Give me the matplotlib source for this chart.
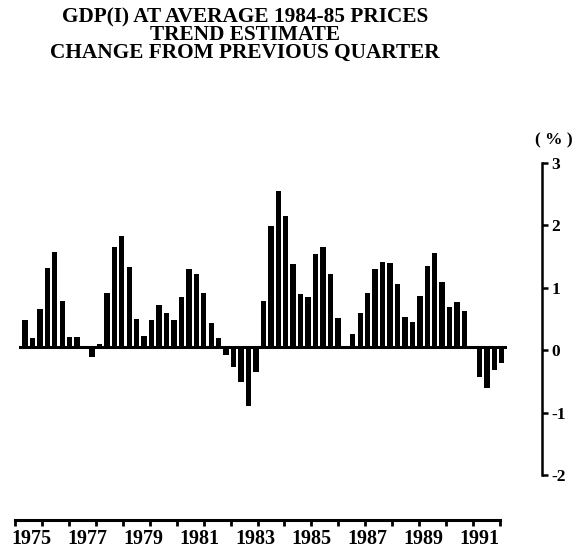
import numpy as np
import matplotlib
matplotlib.use("Agg")
import matplotlib.pyplot as plt

# quarterly % change, trend estimate
pct_change = [0.43, 0.15, 0.62, 1.27, 1.52, 0.74, 0.16, 0.17, 0.0, -0.16,
              0.05, 0.87, 1.60, 1.78, 1.28, 0.45, 0.18, 0.43, 0.67, 0.55,
              0.43, 0.81, 1.26, 1.18, 0.87, 0.39, 0.14, -0.12, -0.31, -0.55,
              -0.94, -0.39, 0.74, 1.94, 2.51, 2.10, 1.34, 0.86, 0.80, 1.49,
              1.61, 1.18, 0.47, 0.0, 0.21, 0.55, 0.87, 1.25, 1.37, 1.35,
              1.02, 0.49, 0.40, 0.82, 1.30, 1.51, 1.05, 0.65, 0.73, 0.58,
              0.0, -0.48, -0.65, -0.37, -0.25]
year_labels = [1975, 1977, 1979, 1981, 1983, 1985, 1987, 1989, 1991]
y_ticks = [3, 2, 1, 0, -1, -2]

title_lines = ["GDP(I) AT AVERAGE 1984-85 PRICES",
               "TREND ESTIMATE",
               "CHANGE FROM PREVIOUS QUARTER"]

W, H = 584, 548
serif = ["Liberation Serif", "DejaVu Serif"]
plt.rcParams["font.family"] = serif
plt.rcParams["font.weight"] = "bold"

fig = plt.figure(figsize=(W / 100, H / 100), dpi=100)


def box(x0, y0, x1, y1):
    # pixel box (top-left origin) -> figure fraction rect
    return [x0 / W, 1 - y1 / H, (x1 - x0) / W, (y1 - y0) / H]


# bars
ax = fig.add_axes(box(19, 160, 507, 472))
x = np.arange(len(pct_change))
ax.bar(x, pct_change, width=0.72, color="black")
ax.axhline(0, color="black", lw=2.2)
ax.set_xlim(-0.8, len(pct_change) - 0.3)
ax.set_ylim(-2, 3)
ax.axis("off")

# right hand scale
ay = fig.add_axes(box(541, 163, 542, 475))
ay.set_ylim(-2, 3)
ay.set_xticks([])
for s in ["left", "top", "bottom"]:
    ay.spines[s].set_visible(False)
ay.spines["right"].set_linewidth(1.8)
ay.yaxis.tick_right()
ay.set_yticks(y_ticks)
ay.set_yticklabels([str(v) for v in y_ticks])
ay.tick_params(axis="y", direction="out", length=4, width=1.8, pad=3,
               labelsize=12.5)
fig.text(554 / W, 1 - 140 / H, "( % )", ha="center", va="center",
         fontsize=12.5, fontweight="bold")

# time scale at the bottom
ab = fig.add_axes(box(15, 519, 500, 519.5))
ab.set_xlim(1974.43, 1991.75)
ab.set_yticks([])
for s in ["left", "top", "right"]:
    ab.spines[s].set_visible(False)
ab.spines["bottom"].set_linewidth(2.2)
lo, hi = ab.get_xlim()
ab.set_xticks(np.linspace(lo, hi, 19))
ab.set_xticklabels([])
ab.tick_params(axis="x", which="major", direction="out", length=4.5, width=2)
ab.set_xticks(year_labels, [str(y) for y in year_labels], minor=True)
ab.tick_params(axis="x", which="minor", length=0, pad=6.5, labelsize=14.5)

# title
fig.text(245 / W, 1 - 35.5 / H, "\n".join(title_lines), ha="center",
         va="center", fontsize=15.3, fontweight="bold", linespacing=0.84,
         multialignment="center")

fig.savefig("out.png", dpi=100, facecolor="white")
